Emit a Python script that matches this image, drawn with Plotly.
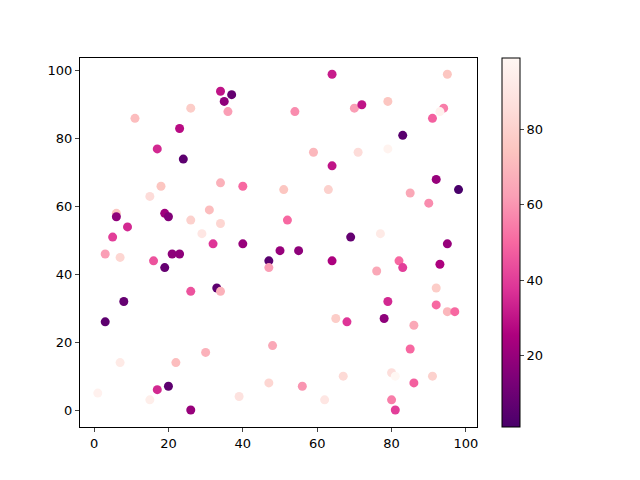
import plotly.graph_objects as go

# points (x, y, colour value)
x = [34, 37, 35, 36, 26, 11, 23, 17, 24, 18,
     34, 40, 15, 6, 6, 19, 20, 31, 26, 34,
     9, 29, 5, 64, 95, 54, 70, 72, 79, 94,
     93, 91, 83, 59, 71, 79, 64, 92, 98, 51,
     63, 85, 90, 52, 69, 77, 3, 7, 16, 21,
     23, 32, 40, 19, 47, 47, 50, 26, 33, 34,
     8, 3, 48, 30, 7, 22, 47, 20, 17, 1,
     15, 39, 26, 95, 55, 64, 82, 83, 93, 76,
     92, 79, 92, 95, 97, 65, 68, 78, 86, 85,
     67, 80, 81, 91, 56, 86, 62, 80, 81]
y = [94, 93, 91, 88, 89, 86, 83, 77, 74, 66,
     67, 66, 63, 58, 57, 58, 57, 59, 56, 55,
     54, 52, 51, 99, 99, 88, 89, 90, 91, 89,
     88, 86, 81, 76, 76, 77, 72, 68, 65, 65,
     65, 64, 61, 56, 51, 52, 46, 45, 44, 46,
     46, 49, 49, 42, 44, 42, 47, 35, 36, 35,
     32, 26, 19, 17, 14, 14, 8, 7, 6, 5,
     3, 4, 0, 49, 47, 44, 44, 42, 43, 41,
     36, 32, 31, 29, 29, 27, 26, 27, 25, 18,
     10, 11, 10, 10, 7, 8, 3, 3, 0]
c = [30, 8, 18, 62, 78, 72, 28, 35, 6, 75,
     68, 50, 85, 75, 18, 22, 15, 72, 80, 82,
     35, 90, 40, 32, 75, 58, 62, 30, 75, 55,
     96, 48, 5, 70, 85, 97, 30, 20, 1, 75,
     80, 65, 58, 50, 8, 92, 62, 82, 45, 18,
     18, 38, 20, 8, 5, 62, 20, 45, 6, 68,
     8, 6, 65, 68, 92, 72, 82, 6, 35, 96,
     94, 88, 20, 20, 18, 25, 50, 40, 25, 65,
     78, 35, 50, 70, 50, 78, 38, 18, 65, 50,
     84, 86, 99, 80, 60, 48, 90, 55, 40]

fig = go.Figure(go.Scatter(
    x=x, y=y, mode="markers",
    marker=dict(size=9, color=c, colorscale="RdPu_r",
                showscale=True,
                colorbar=dict(x=1.063, xanchor="left", xpad=0,
                              y=0.5, len=1, ypad=0,
                              thickness=18, outlinewidth=1, outlinecolor="black",
                              ticks="outside", ticklen=4,
                              tickvals=[20, 40, 60, 80],
                              tickfont=dict(size=13, color="black"))),
    showlegend=False,
))

axis = dict(showline=True, mirror=True, linecolor="black", linewidth=1,
            ticks="outside", ticklen=4, showgrid=False, zeroline=False,
            tickfont=dict(size=13, color="black"))

# page has an 8px body margin, so the figure is shrunk and margins shifted
fig.update_layout(
    width=632, height=472,
    margin=dict(l=72, r=163, t=50, b=53),
    plot_bgcolor="white", paper_bgcolor="white",
    font=dict(family="DejaVu Sans"),
    xaxis=dict(axis, range=[-3.78, 102.97], tickvals=[0, 20, 40, 60, 80, 100]),
    yaxis=dict(axis, range=[-5.0, 103.8], tickvals=[0, 20, 40, 60, 80, 100]),
)

fig.write_html("out.html")
